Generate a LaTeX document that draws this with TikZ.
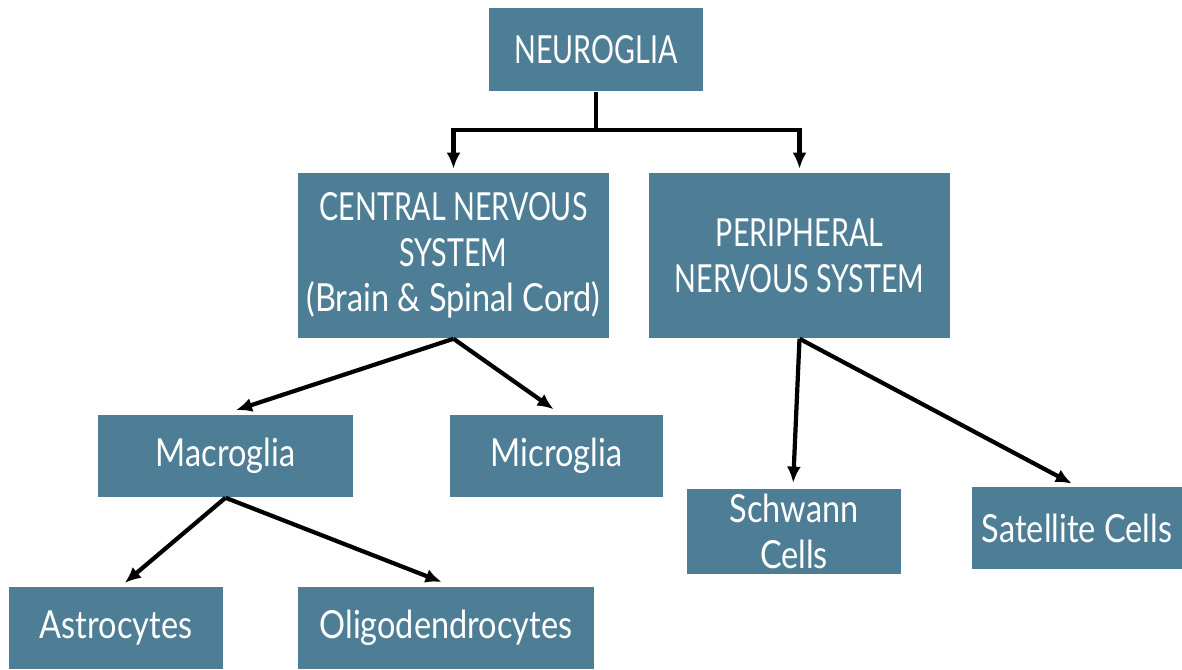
\documentclass[tikz,border=0pt]{standalone}
\usepackage{xcolor}
\usepackage{fontspec}
\setmainfont[FakeStretch = 0.84]{Lato}
\newfontfamily\capsfont[FakeStretch = 0.74]{Lato}
\usepackage{tikz}
\usetikzlibrary{calc}
\usetikzlibrary{arrows.meta}
\usetikzlibrary{positioning}
\definecolor{gliablue}{RGB}{78,126,149}
\tikzset{>=latex}
\tikzstyle{box} = [draw = none, fill = gliablue, text = white, inner sep = 1, align = center, font = \fontsize{11}{13}\selectfont]
\tikzstyle{conn} = [-{Latex[length = 4.6pt, width = 4pt]}, draw = black, line width = 1.2pt, shorten > = 1pt]
\begin{document}
\begin{tikzpicture}[x = 0.01cm, y = -0.01cm]
\useasboundingbox (0, 0) rectangle (1182, 669);
\node [box, minimum width = 2.14cm, minimum height = 0.83cm] (N) at (596, 49.5) {\capsfont NEUROGLIA};
\node [box, minimum width = 3.11cm, minimum height = 1.65cm] (CNS) at (453.5, 255.5) {{\capsfont CENTRAL NERVOUS}\\{\capsfont SYSTEM}\\(Brain \& Spinal Cord)};
\node [box, minimum width = 3.01cm, minimum height = 1.65cm] (PNS) at (799.5, 255.5) {\capsfont PERIPHERAL\\\capsfont NERVOUS SYSTEM};
\node [box, minimum width = 2.55cm, minimum height = 0.82cm] (Mac) at (225.5, 456) {Macroglia};
\node [box, minimum width = 2.13cm, minimum height = 0.82cm] (Mic) at (556.5, 456) {Microglia};
\node [box, minimum width = 2.14cm, minimum height = 0.85cm] (Sch) at (794, 531.5) {Schwann\\Cells};
\node [box, minimum width = 2.10cm, minimum height = 0.82cm] (Sat) at (1077, 528) {Satellite Cells};
\node [box, minimum width = 2.14cm, minimum height = 0.82cm] (Ast) at (116, 628) {Astrocytes};
\node [box, minimum width = 2.96cm, minimum height = 0.82cm] (Oli) at (446, 628) {Oligodendrocytes};
\coordinate (split) at (596, 130);
\draw [draw = black, line width = 1.2pt] (N.south) to (split);
\draw [conn] (split) -| (CNS.north);
\draw [conn] (split) -| (PNS.north);
\draw [conn] (CNS.south) to ($(Mac.north) + (7, -3)$);
\draw [conn] (CNS.south) to ($(Mic.north) + (0, -3)$);
\draw [conn] (PNS.south) to ($(Sch.north) + (-1, -2)$);
\draw [conn] (PNS.south) to ($(Sat.north) + (-2, -1)$);
\draw [conn] (Mac.south) to ($(Ast.north) + (6, -1)$);
\draw [conn] (Mac.south) to ($(Oli.north) + (-1, -3)$);
\end{tikzpicture}
\end{document}
